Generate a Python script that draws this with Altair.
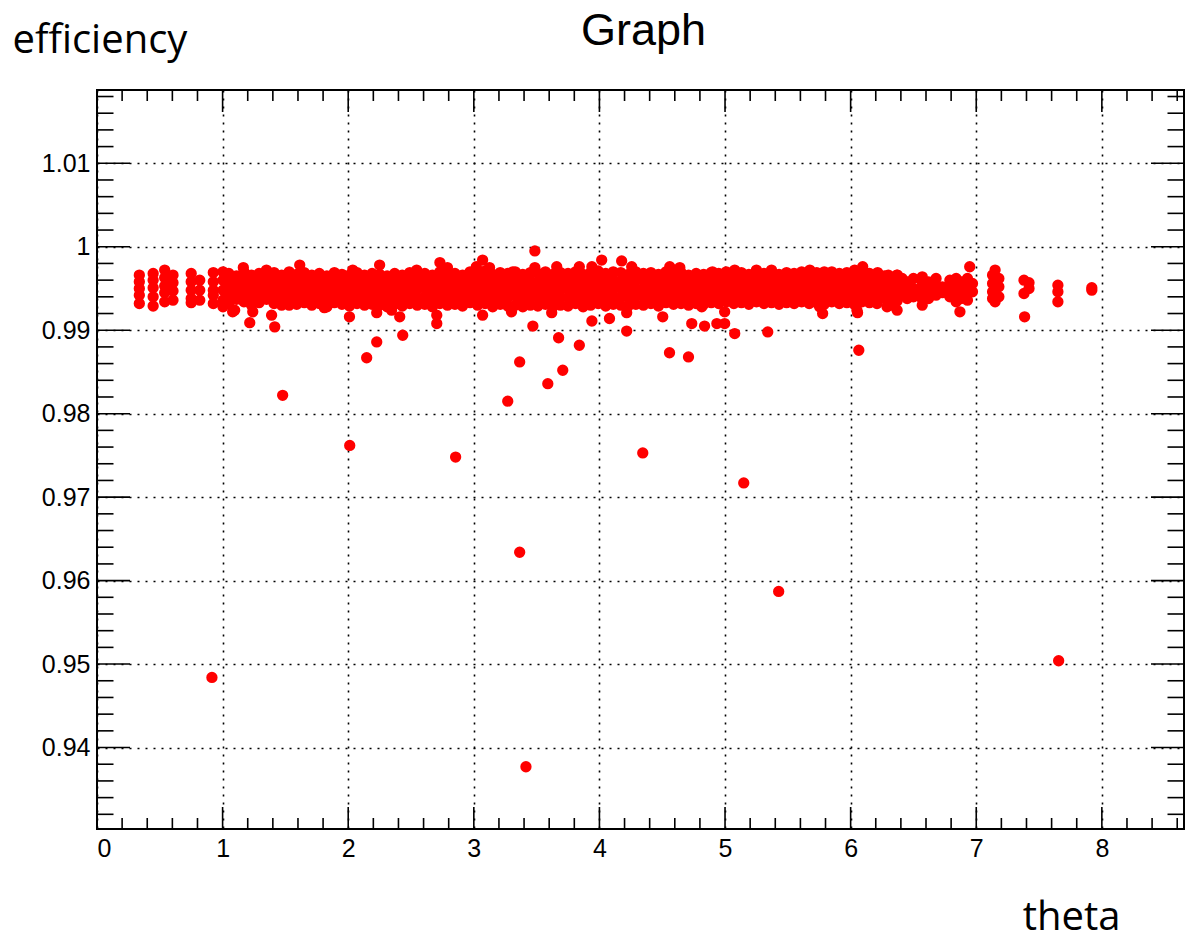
import altair as alt
import pandas as pd

# ---------------- data (efficiency in units of 1e-4) ----------------
# discrete columns at low theta
left_theta = [0.337, 0.447, 0.539, 0.605, 0.750, 0.818, 0.926, 1.003]
left_eff = [
    [9966, 9958, 9950, 9942, 9932],
    [9968, 9960, 9951, 9940, 9929],
    [9972, 9963, 9953, 9945, 9934],
    [9966, 9957, 9947, 9936],
    [9968, 9958, 9948, 9938, 9933],
    [9960, 9948, 9936],
    [9969, 9958, 9948, 9942, 9932],
    [9970, 9960, 9948, 9936, 9928],
]

# dense band
band_theta = [1.05, 1.11, 1.17, 1.23, 1.29, 1.35, 1.41, 1.47, 1.53, 1.59,
              1.65, 1.71, 1.77, 1.83, 1.89, 1.95, 2.01, 2.07, 2.13, 2.19,
              2.25, 2.31, 2.37, 2.43, 2.49, 2.55, 2.61, 2.67, 2.73, 2.79,
              2.85, 2.91, 2.97, 3.03, 3.09, 3.15, 3.21, 3.27, 3.33, 3.39,
              3.45, 3.51, 3.57, 3.63, 3.69, 3.75, 3.81, 3.87, 3.93, 3.99,
              4.05, 4.11, 4.17, 4.23, 4.29, 4.35, 4.41, 4.47, 4.53, 4.59,
              4.65, 4.71, 4.77, 4.83, 4.89, 4.95, 5.01, 5.07, 5.13, 5.19,
              5.25, 5.31, 5.37, 5.43, 5.49, 5.55, 5.61, 5.67, 5.73, 5.79,
              5.85, 5.91, 5.97, 6.03, 6.09, 6.15, 6.21, 6.27]
band_eff = [
    [9968, 9959, 9950, 9941, 9932], [9965, 9956, 9946, 9937], [9970, 9961, 9952, 9943, 9934],
    [9966, 9957, 9948, 9939, 9930], [9968, 9960, 9951, 9942, 9933], [9964, 9955, 9946, 9937],
    [9969, 9960, 9950, 9941, 9932], [9966, 9957, 9947, 9938, 9930], [9970, 9961, 9952, 9943, 9935],
    [9967, 9958, 9949, 9940, 9931], [9969, 9960, 9951, 9942, 9933], [9966, 9957, 9948, 9939, 9930],
    [9968, 9959, 9950, 9941, 9932], [9965, 9956, 9947, 9938, 9929], [9969, 9960, 9951, 9942, 9933],
    [9967, 9958, 9949, 9940, 9931], [9966, 9957, 9948, 9939, 9929], [9969, 9960, 9950, 9941, 9932],
    [9966, 9956, 9947, 9938, 9930], [9968, 9959, 9950, 9941, 9931], [9967, 9957, 9948, 9939, 9930],
    [9965, 9956, 9947, 9938, 9928], [9968, 9959, 9950, 9940, 9931], [9966, 9957, 9948, 9939, 9929],
    [9969, 9960, 9951, 9941, 9932], [9967, 9958, 9949, 9939, 9930], [9968, 9959, 9950, 9940, 9931],
    [9966, 9957, 9947, 9938, 9928], [9970, 9960, 9951, 9942, 9932], [9967, 9958, 9948, 9939, 9930],
    [9968, 9959, 9950, 9941, 9931], [9966, 9957, 9948, 9938, 9929], [9970, 9961, 9951, 9942, 9933],
    [9969, 9959, 9950, 9940, 9930], [9971, 9961, 9952, 9942, 9932], [9967, 9957, 9948, 9938, 9928],
    [9969, 9960, 9950, 9941, 9931], [9968, 9958, 9949, 9939, 9929], [9970, 9961, 9951, 9941, 9930],
    [9967, 9958, 9948, 9938, 9928], [9969, 9959, 9950, 9940, 9930], [9968, 9958, 9948, 9939, 9929],
    [9970, 9960, 9951, 9941, 9931], [9967, 9957, 9948, 9938, 9928], [9969, 9960, 9950, 9940, 9930],
    [9968, 9958, 9949, 9939, 9929], [9970, 9961, 9951, 9942, 9932], [9967, 9957, 9948, 9938, 9928],
    [9969, 9959, 9950, 9940, 9930], [9971, 9962, 9952, 9942, 9932], [9968, 9958, 9949, 9939, 9929],
    [9970, 9960, 9951, 9941, 9931], [9969, 9959, 9950, 9940, 9930], [9967, 9958, 9948, 9939, 9929],
    [9970, 9960, 9950, 9941, 9931], [9968, 9959, 9949, 9940, 9930], [9969, 9960, 9951, 9941, 9932],
    [9967, 9957, 9948, 9938, 9929], [9970, 9961, 9951, 9942, 9933], [9968, 9959, 9950, 9940, 9931],
    [9969, 9960, 9951, 9941, 9932], [9966, 9957, 9948, 9939, 9930], [9968, 9959, 9950, 9941, 9932],
    [9967, 9958, 9949, 9940, 9931], [9969, 9960, 9951, 9942, 9933], [9968, 9959, 9950, 9941, 9932],
    [9970, 9961, 9952, 9943, 9934], [9968, 9959, 9950, 9941, 9932], [9969, 9960, 9951, 9942, 9933],
    [9967, 9958, 9949, 9940, 9931], [9970, 9961, 9952, 9943, 9934], [9968, 9959, 9950, 9941, 9932],
    [9969, 9960, 9951, 9942, 9933], [9967, 9958, 9949, 9940, 9931], [9969, 9960, 9951, 9942, 9933],
    [9968, 9959, 9950, 9941, 9932], [9970, 9961, 9952, 9943, 9934], [9968, 9959, 9950, 9941, 9932],
    [9969, 9960, 9951, 9942, 9933], [9967, 9958, 9949, 9940, 9931], [9970, 9961, 9952, 9943, 9934],
    [9968, 9959, 9950, 9941, 9932], [9969, 9960, 9951, 9942, 9933], [9967, 9958, 9949, 9940, 9931],
    [9970, 9961, 9952, 9943, 9934], [9968, 9959, 9950, 9941, 9933], [9966, 9957, 9948, 9940, 9932],
    [9965, 9956, 9947, 9938],
]

# sparser columns at high theta
right_theta = [6.30, 6.33, 6.37, 6.41, 6.45, 6.50, 6.57, 6.62, 6.68, 6.73, 6.79, 6.84,
               6.88, 6.93, 6.97, 7.13, 7.15, 7.18, 7.38, 7.42, 7.65, 7.92]
right_eff = [
    [9966, 9956, 9946, 9936], [9960, 9950, 9940, 9930], [9966, 9955, 9945, 9935],
    [9962, 9952, 9942], [9958, 9948, 9938], [9962, 9950, 9940],
    [9964, 9955, 9946, 9937, 9930], [9958, 9948, 9938], [9962, 9952, 9942],
    [9952, 9945], [9960, 9950, 9940], [9962, 9952, 9943, 9934],
    [9958, 9948, 9938], [9962, 9952, 9944, 9936], [9956, 9946],
    [9966, 9956, 9946, 9938], [9972, 9960, 9950, 9942, 9934], [9962, 9952, 9940],
    [9960, 9944], [9957, 9950], [9954, 9946, 9934], [9951, 9948],
]

# upper edge excursions of the band
peak_theta = [1.165, 1.349, 1.614, 2.036, 2.25, 2.545, 2.73, 2.79, 3.02, 3.07,
              3.125, 3.31, 3.486, 3.486, 3.66, 3.84, 3.94, 4.018, 4.177, 4.257,
              4.56, 4.64, 4.775, 4.90, 5.077, 5.25, 5.37, 5.675, 5.79, 6.032,
              6.096, 6.215, 6.37, 6.948]
peak_eff = [9975, 9972, 9978, 9972, 9978, 9972, 9981, 9975, 9976, 9984,
            9975, 9970, 9995, 9975, 9976, 9976, 9976, 9984, 9983, 9976,
            9976, 9975, 9966, 9970, 9972, 9972, 9972, 9972, 9970, 9972,
            9976, 9969, 9966, 9976]

# lower edge excursions and moderate outliers
dip_theta = [1.08, 1.096, 1.216, 1.24, 1.39, 1.415, 1.53, 1.81, 1.83, 2.01,
             2.227, 2.227, 2.345, 2.41, 2.434, 2.705, 2.705, 3.07, 3.30, 3.47,
             3.62, 3.675, 3.84, 3.94, 4.08, 4.217, 4.217, 4.504, 4.735, 4.815,
             4.837, 4.935, 4.997, 4.997, 5.077, 5.34, 5.753, 5.777, 6.05, 6.055,
             6.37, 6.29, 6.87, 7.385, 2.147, 3.365, 3.589, 3.708, 4.558, 4.709,
             6.065]
dip_eff = [9922, 9924, 9909, 9922, 9918, 9904, 9930, 9927, 9928, 9916,
           9921, 9886, 9924, 9916, 9894, 9918, 9908, 9918, 9922, 9905,
           9921, 9891, 9882, 9911, 9914, 9921, 9899, 9916, 9908, 9928,
           9905, 9908, 9922, 9908, 9896, 9898, 9928, 9920, 9924, 9921,
           9924, 9928, 9922, 9916, 9867, 9862, 9836, 9852, 9873, 9868,
           9876]

# far outliers
out_theta = [0.915, 1.478, 2.012, 2.855, 3.27, 3.365, 3.415, 4.345, 5.149, 5.427, 7.656]
out_eff = [9484, 9822, 9762, 9748, 9815, 9634, 9377, 9753, 9717, 9587, 9504]

# axes
x_major = [0, 1, 2, 3, 4, 5, 6, 7, 8]
y_major = [0.94, 0.95, 0.96, 0.97, 0.98, 0.99, 1.00, 1.01]
title_text = ["Graph"]

# ---------------- build table ----------------
rows = []
for t, col in zip(left_theta, left_eff):
    rows += [(t, e / 1e4) for e in col]
for t, col in zip(band_theta, band_eff):
    rows += [(t, e / 1e4) for e in col]
for t, col in zip(right_theta, right_eff):
    rows += [(t, e / 1e4) for e in col]
rows += [(t, e / 1e4) for t, e in zip(peak_theta, peak_eff)]
rows += [(t, e / 1e4) for t, e in zip(dip_theta, dip_eff)]
rows += [(t, e / 1e4) for t, e in zip(out_theta, out_eff)]
df = pd.DataFrame(rows, columns=["theta", "eff"])

x_minor = [round(0.2 * i, 1) for i in range(1, 44) if i % 5 != 0]
y_minor = [round(0.932 + 0.002 * i, 3) for i in range(0, 44) if i % 5 != 4]

W, H = 1087, 739
xs = alt.Scale(domain=[0, 8.654], nice=False, zero=False)
ys = alt.Scale(domain=[0.93024, 1.01878], nice=False, zero=False)

FONT = "Liberation Sans"
TFONT = "Open Sans"

x_axis = alt.Axis(values=x_major, title="theta", grid=True, ticks=False, tickSize=0,
                  domain=False, labelPadding=7, format="d",
                  titleAngle=0, titleAlign="right", titleBaseline="alphabetic",
                  titleX=1023, titleY=100)
y_axis = alt.Axis(values=y_major, title="efficiency", grid=True, ticks=False, tickSize=0,
                  domain=False, labelPadding=7,
                  labelExpr="datum.value > 0.9999 && datum.value < 1.0001 ? '1' : format(datum.value, '.2f')",
                  titleAngle=0, titleAlign="left", titleBaseline="alphabetic",
                  titleX=-85, titleY=-38)

points = alt.Chart(df).mark_circle(size=128, color="#ff0000", opacity=1).encode(
    x=alt.X("theta:Q", scale=xs, axis=x_axis),
    y=alt.Y("eff:Q", scale=ys, axis=y_axis),
)


def xticks(vals, length):
    d = pd.DataFrame({"theta": vals})
    bottom = alt.Chart(d).mark_rule(color="black", strokeWidth=1.6).encode(
        x=alt.X("theta:Q", scale=xs, axis=x_axis), y=alt.value(H), y2=alt.value(H - length))
    top = alt.Chart(d).mark_rule(color="black", strokeWidth=1.6).encode(
        x=alt.X("theta:Q", scale=xs, axis=x_axis), y=alt.value(0), y2=alt.value(length))
    return [bottom, top]


def yticks(vals, length):
    d = pd.DataFrame({"eff": vals})
    left = alt.Chart(d).mark_rule(color="black", strokeWidth=1.6).encode(
        y=alt.Y("eff:Q", scale=ys, axis=y_axis), x=alt.value(0), x2=alt.value(length))
    right = alt.Chart(d).mark_rule(color="black", strokeWidth=1.6).encode(
        y=alt.Y("eff:Q", scale=ys, axis=y_axis), x=alt.value(W), x2=alt.value(W - length))
    return [left, right]


title = alt.Chart(pd.DataFrame({"t": title_text})).mark_text(
    font=FONT, fontSize=45, color="black", align="center", baseline="alphabetic"
).encode(text="t:N", x=alt.value(W / 2 + 3), y=alt.value(-45))

layers = [points] + xticks(x_major, 22) + xticks(x_minor, 11) + yticks(y_major, 33) + yticks(y_minor, 16.5) + [title]

chart = alt.layer(*layers).properties(
    width=W, height=H,
    autosize=alt.AutoSizeParams(type="none"),
    padding={"left": 97, "top": 90, "right": 1, "bottom": 111},
    background="white",
).configure_view(
    stroke="black", strokeWidth=2
).configure_axis(
    labelFont=FONT, labelFontSize=25, labelColor="black",
    titleFont=TFONT, titleFontSize=40, titleFontWeight="normal", titleColor="black",
    gridColor="black", gridDash=[2, 6], gridWidth=1.6, gridOpacity=1,
)

chart.save("out.html", embed_options={"renderer": "svg", "actions": False})
